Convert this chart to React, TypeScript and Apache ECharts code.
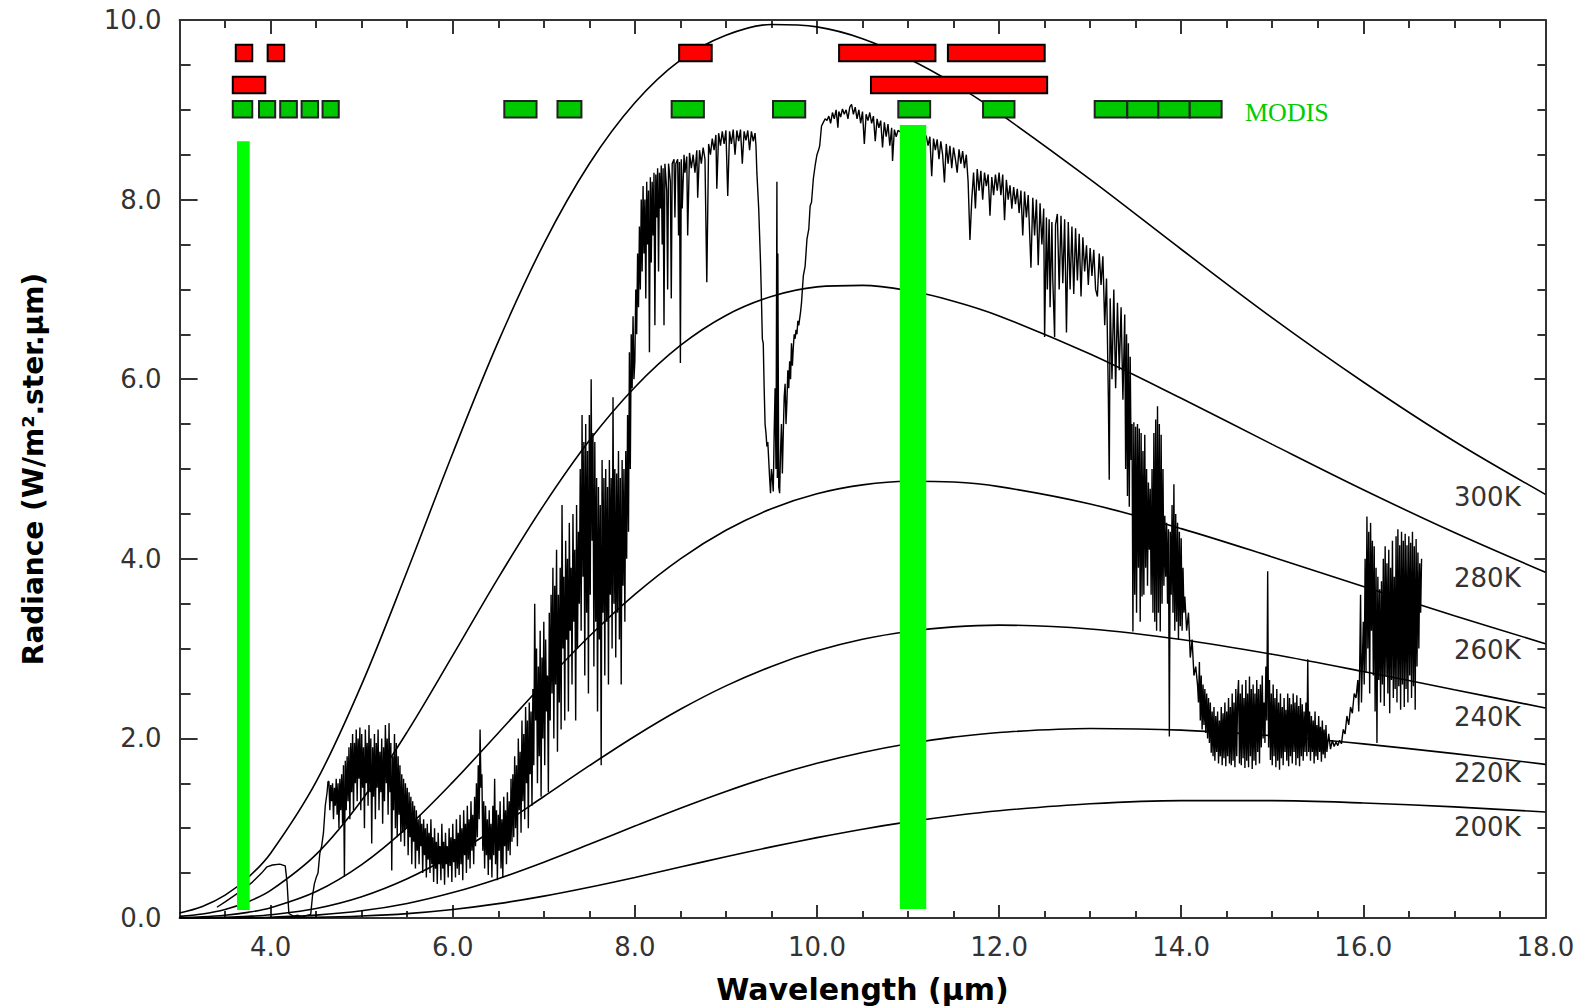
import React, { useEffect, useRef } from 'react';
import * as echarts from 'echarts';

// ---------- Planck curves ----------
const planckWavelengths = [3.0, 3.25, 3.5, 3.75, 4.0, 4.5, 5.0, 5.5, 6.0, 6.5, 7.0, 7.5, 8.0, 8.5, 9.0, 9.5, 10.0, 10.5, 11.0, 11.5, 12.0, 13.0, 14.0, 15.0, 16.0, 17.0, 18.0];
const radiance300K = [0.056, 0.128, 0.254, 0.448, 0.722, 1.518, 2.602, 3.865, 5.176, 6.418, 7.508, 8.399, 9.078, 9.553, 9.829, 9.950, 9.923, 9.792, 9.572, 9.294, 8.962, 8.225, 7.447, 6.683, 5.969, 5.309, 4.718];
const radiance280K = [0.018, 0.045, 0.095, 0.180, 0.307, 0.709, 1.312, 2.073, 2.924, 3.788, 4.598, 5.317, 5.911, 6.376, 6.710, 6.921, 7.028, 7.045, 6.987, 6.869, 6.705, 6.280, 5.787, 5.274, 4.769, 4.292, 3.850];
const radiance260K = [0.005, 0.013, 0.031, 0.063, 0.114, 0.295, 0.595, 1.010, 1.513, 2.061, 2.614, 3.138, 3.604, 4.000, 4.318, 4.558, 4.724, 4.823, 4.864, 4.855, 4.804, 4.610, 4.336, 4.020, 3.692, 3.366, 3.055];
const radiance240K = [0.001, 0.003, 0.008, 0.018, 0.036, 0.106, 0.237, 0.437, 0.701, 1.014, 1.353, 1.696, 2.024, 2.324, 2.585, 2.802, 2.975, 3.104, 3.191, 3.242, 3.261, 3.219, 3.102, 2.937, 2.745, 2.542, 2.339];
const radiance220K = [0.000, 0.001, 0.002, 0.004, 0.009, 0.032, 0.080, 0.162, 0.283, 0.438, 0.621, 0.820, 1.024, 1.223, 1.410, 1.578, 1.723, 1.844, 1.941, 2.014, 2.066, 2.110, 2.092, 2.030, 1.939, 1.830, 1.711];
const radiance200K = [0.000, 0.000, 0.000, 0.001, 0.002, 0.007, 0.022, 0.049, 0.095, 0.160, 0.244, 0.343, 0.452, 0.567, 0.682, 0.792, 0.895, 0.989, 1.070, 1.139, 1.195, 1.272, 1.307, 1.307, 1.281, 1.237, 1.180];
const curveNames = ['300K', '280K', '260K', '240K', '220K', '200K'];

// ---------- measured spectrum [wavelength µm, radiance] ----------
const spectrum: [number, number][] = [
  [3.41, 0.12], [3.50, 0.18], [3.60, 0.25], [3.70, 0.32], [3.80, 0.40], [3.90, 0.50], [3.96, 0.57], [4.02, 0.59], [4.10, 0.60], [4.16, 0.58], [4.18, 0.40], [4.20, 0.05],
  [4.25, 0.02], [4.30, 0.03], [4.35, 0.01], [4.40, 0.03], [4.44, 0.04], [4.46, 0.25], [4.48, 0.38], [4.50, 0.45], [4.52, 0.50], [4.54, 0.72], [4.56, 0.80], [4.58, 0.95], [4.60, 1.25], [4.62, 1.40], [4.63, 1.52],
  [4.64, 1.52], [4.65, 1.20], [4.66, 1.48], [4.67, 1.30], [4.68, 1.50], [4.69, 1.10], [4.70, 1.45], [4.71, 1.25], [4.72, 1.55], [4.73, 1.15], [4.74, 1.50], [4.75, 1.00], [4.76, 1.55], [4.77, 1.20], [4.78, 1.60], [4.79, 1.05],
  [4.80, 1.70], [4.81, 0.46], [4.82, 1.75], [4.83, 1.20], [4.84, 1.80], [4.85, 1.30], [4.86, 1.90], [4.87, 1.10], [4.88, 1.95], [4.89, 1.40], [4.90, 2.05], [4.91, 1.20], [4.92, 1.95], [4.93, 1.50], [4.94, 2.10], [4.95, 1.30],
  [4.96, 2.00], [4.97, 1.55], [4.98, 2.12], [4.99, 1.20], [5.00, 2.05], [5.01, 1.45], [5.02, 1.90], [5.03, 1.00], [5.04, 2.10], [5.05, 1.50], [5.06, 1.95], [5.07, 1.25], [5.08, 2.15], [5.09, 1.40], [5.10, 2.00], [5.11, 0.83],
  [5.12, 1.90], [5.13, 1.35], [5.14, 2.05], [5.15, 1.10], [5.16, 1.95], [5.17, 1.45], [5.18, 2.10], [5.19, 1.20], [5.20, 1.85], [5.21, 1.40], [5.22, 2.00], [5.23, 1.05], [5.24, 1.90], [5.25, 1.30], [5.26, 2.15], [5.27, 1.50],
  [5.28, 2.00], [5.29, 1.15], [5.30, 2.17], [5.31, 1.40], [5.32, 1.95], [5.33, 0.53], [5.34, 1.80], [5.35, 1.20], [5.36, 2.05], [5.37, 1.00], [5.38, 1.95], [5.39, 0.90], [5.40, 1.80], [5.41, 1.15], [5.42, 1.70], [5.43, 0.85],
  [5.44, 1.60], [5.45, 0.95],
  [5.46, 1.55], [5.47, 0.80], [5.48, 1.50], [5.49, 1.00], [5.50, 1.45], [5.51, 0.70], [5.52, 1.40], [5.53, 0.90], [5.54, 1.35], [5.55, 0.60], [5.56, 1.30], [5.57, 0.85], [5.58, 1.25], [5.59, 0.55], [5.60, 1.20], [5.61, 0.75],
  [5.62, 1.10], [5.63, 0.60], [5.64, 1.15], [5.65, 0.80], [5.66, 1.05], [5.67, 0.50], [5.68, 1.10], [5.69, 0.70], [5.70, 1.00], [5.71, 0.45], [5.72, 1.05], [5.73, 0.65], [5.74, 0.95], [5.75, 0.50], [5.76, 1.10], [5.77, 0.60],
  [5.78, 0.90], [5.79, 0.40], [5.80, 1.00], [5.81, 0.55], [5.82, 0.85], [5.83, 0.38], [5.84, 0.95], [5.85, 0.60], [5.86, 0.80], [5.87, 0.42], [5.88, 1.05], [5.89, 0.55], [5.90, 0.85], [5.91, 0.37], [5.92, 0.95], [5.93, 0.60],
  [5.94, 0.80], [5.95, 0.45], [5.96, 1.00], [5.97, 0.58], [5.98, 0.90], [5.99, 0.40], [6.00, 1.05], [6.01, 0.62], [6.02, 0.88], [6.03, 0.45], [6.04, 1.10], [6.05, 0.55], [6.06, 0.95], [6.07, 0.48], [6.08, 1.15], [6.09, 0.60],
  [6.10, 1.00], [6.11, 0.42], [6.12, 1.20], [6.13, 0.70], [6.14, 1.05], [6.15, 0.50], [6.16, 1.25], [6.17, 0.65], [6.18, 1.10], [6.19, 0.55], [6.20, 1.30], [6.21, 0.75], [6.22, 1.15], [6.23, 0.60], [6.24, 1.35], [6.25, 0.80],
  [6.26, 1.50], [6.27, 0.90], [6.28, 1.70], [6.29, 1.10], [6.30, 2.10], [6.31, 1.45], [6.32, 1.60], [6.33, 0.75], [6.34, 1.30], [6.35, 0.55], [6.36, 1.25], [6.37, 0.70], [6.38, 1.10], [6.39, 0.48], [6.40, 1.20], [6.41, 0.65],
  [6.42, 1.05], [6.43, 0.45], [6.44, 1.25], [6.45, 0.70], [6.46, 1.55], [6.47, 0.60], [6.48, 1.20], [6.49, 0.42], [6.50, 1.15], [6.51, 0.75], [6.52, 1.30], [6.53, 0.55], [6.54, 1.10], [6.55, 0.45], [6.56, 1.35], [6.57, 0.80],
  [6.58, 1.20], [6.59, 0.60], [6.60, 1.40], [6.61, 0.75], [6.62, 1.30], [6.63, 0.70], [6.64, 1.55], [6.65, 0.85],
  [6.66, 1.60], [6.67, 0.90], [6.68, 1.80], [6.69, 1.00], [6.70, 1.70], [6.71, 0.80], [6.72, 2.00], [6.73, 1.20], [6.74, 1.85], [6.75, 0.95], [6.76, 2.20], [6.77, 1.30], [6.78, 2.05], [6.79, 1.10], [6.80, 2.35], [6.81, 1.50],
  [6.82, 2.20], [6.83, 1.00], [6.84, 2.40], [6.85, 1.60], [6.86, 2.30], [6.87, 1.25], [6.88, 2.55], [6.89, 1.70], [6.90, 3.50], [6.91, 2.20], [6.92, 3.00], [6.93, 1.50], [6.94, 2.80], [6.95, 1.80], [6.96, 3.20], [6.97, 1.35],
  [6.98, 2.90], [6.99, 2.00], [7.00, 3.30], [7.01, 1.70], [7.02, 3.10], [7.03, 2.30], [7.04, 2.70], [7.05, 1.40], [7.06, 3.40], [7.07, 2.20], [7.08, 3.60], [7.09, 2.50],
  [7.10, 3.90], [7.11, 2.00], [7.12, 3.70], [7.13, 2.60], [7.14, 4.10], [7.15, 1.85], [7.16, 3.60], [7.17, 2.40], [7.18, 3.90], [7.19, 2.10], [7.20, 4.60], [7.21, 3.00], [7.22, 3.80], [7.23, 2.20], [7.24, 4.20], [7.25, 3.10],
  [7.26, 4.00], [7.27, 2.30], [7.28, 4.40], [7.29, 3.20], [7.30, 3.90], [7.31, 2.60], [7.32, 4.50], [7.33, 3.30], [7.34, 4.10], [7.35, 2.20], [7.36, 4.60], [7.37, 3.00], [7.38, 4.30], [7.39, 3.50], [7.40, 5.00], [7.41, 3.20],
  [7.42, 5.60], [7.43, 3.80], [7.44, 5.30], [7.45, 2.70], [7.46, 5.50], [7.47, 3.40], [7.48, 5.20], [7.49, 2.50], [7.50, 5.60], [7.51, 3.60], [7.52, 6.00], [7.53, 4.20], [7.54, 5.40], [7.55, 2.80], [7.56, 5.30], [7.57, 3.30],
  [7.58, 4.90], [7.59, 2.30], [7.60, 4.80], [7.61, 3.10], [7.62, 4.60], [7.63, 1.70], [7.64, 5.10], [7.65, 3.40], [7.66, 4.90], [7.67, 2.70], [7.68, 5.00], [7.69, 3.30], [7.70, 4.80], [7.71, 2.60], [7.72, 5.10], [7.73, 3.60],
  [7.74, 4.90], [7.75, 3.00], [7.76, 5.80], [7.77, 3.50], [7.78, 5.00], [7.79, 2.90], [7.80, 4.95], [7.81, 3.40], [7.82, 5.20], [7.83, 3.10], [7.84, 4.90], [7.85, 2.60], [7.86, 5.10], [7.87, 3.70], [7.88, 5.00], [7.89, 3.30],
  [7.90, 5.20], [7.91, 4.00], [7.92, 5.60], [7.93, 4.30], [7.94, 6.30], [7.95, 5.00], [7.96, 6.50], [7.97, 5.90], [7.98, 6.70], [7.99, 6.00],
  [8.00, 6.20], [8.01, 7.00], [8.02, 6.50], [8.03, 7.40], [8.04, 6.80], [8.05, 7.70], [8.06, 7.00], [8.07, 8.00], [8.08, 7.20], [8.09, 8.15], [8.10, 7.40], [8.11, 8.00], [8.12, 6.90], [8.13, 8.20], [8.14, 7.50], [8.15, 8.10],
  [8.16, 6.30], [8.17, 8.25], [8.18, 7.30], [8.19, 8.20], [8.20, 7.60], [8.21, 8.30], [8.22, 6.60], [8.23, 8.28], [8.24, 7.80], [8.25, 8.35], [8.26, 7.20], [8.27, 8.30], [8.28, 7.90], [8.29, 8.38], [8.30, 7.50], [8.31, 8.35],
  [8.32, 6.60], [8.33, 8.40], [8.35, 8.10], [8.36, 7.00], [8.37, 8.40], [8.39, 8.20], [8.40, 6.90], [8.41, 8.40], [8.43, 8.45], [8.44, 7.80], [8.45, 8.40], [8.47, 8.45],
  [8.48, 7.60], [8.49, 8.42], [8.50, 6.18], [8.51, 8.45],
  [8.52, 7.90], [8.54, 8.50], [8.55, 8.30], [8.57, 8.48], [8.58, 7.60], [8.60, 8.52], [8.62, 8.35], [8.64, 8.50], [8.66, 8.30], [8.68, 8.55], [8.69, 8.02], [8.71, 8.55], [8.73, 8.40], [8.75, 8.58], [8.77, 8.45], [8.79, 7.08],
  [8.81, 8.62], [8.83, 8.50], [8.85, 8.68], [8.87, 8.55], [8.89, 8.72], [8.90, 8.12], [8.92, 8.74], [8.94, 8.60], [8.96, 8.76], [8.98, 8.62], [9.00, 8.77], [9.02, 8.04], [9.04, 8.76], [9.06, 8.62], [9.08, 8.78], [9.10, 8.50],
  [9.12, 8.77], [9.14, 8.65], [9.16, 8.78], [9.18, 8.40], [9.20, 8.76], [9.22, 8.66], [9.24, 8.77], [9.26, 8.55], [9.28, 8.76], [9.30, 8.65], [9.32, 8.74],
  [9.33, 8.60], [9.34, 8.30], [9.35, 8.10], [9.36, 7.90], [9.37, 7.60], [9.38, 7.30], [9.39, 6.90], [9.40, 6.45], [9.41, 6.40], [9.42, 5.90], [9.43, 5.50], [9.44, 5.40], [9.45, 5.25], [9.46, 5.30], [9.47, 5.10], [9.48, 4.90],
  [9.49, 4.73], [9.50, 5.00], [9.51, 4.90], [9.52, 4.75], [9.53, 5.40], [9.54, 5.90], [9.55, 5.00], [9.56, 8.20], [9.565, 4.90], [9.57, 7.40], [9.58, 4.80], [9.59, 4.73], [9.60, 5.20], [9.61, 5.50], [9.62, 4.95], [9.63, 5.40],
  [9.64, 5.80], [9.65, 5.95], [9.66, 5.50], [9.67, 5.75], [9.68, 6.10], [9.69, 5.90], [9.70, 6.20], [9.71, 6.00], [9.72, 6.40], [9.73, 6.15], [9.74, 6.35], [9.75, 6.50], [9.76, 6.45], [9.77, 6.55], [9.78, 6.50], [9.79, 6.65],
  [9.80, 6.60], [9.82, 6.75], [9.83, 6.85], [9.85, 7.15], [9.87, 7.26], [9.89, 7.56], [9.91, 7.67], [9.925, 7.93], [9.94, 7.97], [9.96, 8.23], [9.98, 8.38], [10.00, 8.50], [10.02, 8.56], [10.03, 8.60], [10.05, 8.82], [10.07, 8.86],
  [10.09, 8.90], [10.11, 8.88],
  [10.13, 8.93], [10.15, 8.85], [10.17, 8.97], [10.19, 8.90], [10.21, 9.00], [10.23, 8.80], [10.24, 8.98], [10.26, 8.92], [10.28, 9.01], [10.30, 8.95], [10.32, 9.00], [10.34, 8.90], [10.36, 9.03], [10.38, 9.06], [10.40, 8.95], [10.42, 9.03],
  [10.44, 8.90], [10.46, 9.00], [10.48, 8.85], [10.50, 8.98], [10.52, 8.62], [10.54, 8.95], [10.56, 8.88], [10.58, 8.97], [10.60, 8.85], [10.62, 8.93], [10.64, 8.65], [10.66, 8.90], [10.68, 8.80], [10.70, 8.88], [10.72, 8.58], [10.74, 8.86],
  [10.76, 8.70], [10.78, 8.84], [10.80, 8.60], [10.82, 8.80], [10.83, 8.43], [10.85, 8.78], [10.87, 8.70], [10.89, 8.77], [10.92, 8.75], [10.96, 8.72], [11.00, 8.75], [11.04, 8.70], [11.08, 8.72], [11.12, 8.68], [11.16, 8.70], [11.20, 8.71],
  [11.22, 8.60], [11.24, 8.70], [11.26, 8.26], [11.28, 8.68], [11.30, 8.55], [11.32, 8.67], [11.34, 8.45], [11.36, 8.65], [11.38, 8.50], [11.40, 8.19], [11.42, 8.62], [11.44, 8.40], [11.46, 8.60], [11.48, 8.35], [11.50, 8.58], [11.52, 8.45],
  [11.54, 8.30], [11.56, 8.56], [11.58, 8.40], [11.60, 8.54], [11.62, 8.35], [11.64, 8.50], [11.66, 8.20], [11.68, 7.55], [11.70, 8.00], [11.72, 8.30], [11.74, 7.90], [11.76, 8.34], [11.78, 8.10], [11.80, 8.32], [11.82, 8.00], [11.84, 8.30],
  [11.86, 8.15], [11.88, 8.28], [11.90, 7.82], [11.92, 8.25], [11.94, 8.05], [11.96, 8.28], [11.98, 8.10],
  [12.00, 8.30], [12.02, 8.05], [12.04, 8.28], [12.06, 7.77], [12.08, 8.22], [12.10, 8.00], [12.12, 8.16], [12.14, 7.90], [12.16, 8.14], [12.18, 7.95], [12.20, 8.12], [12.22, 7.85], [12.24, 8.10], [12.26, 7.60], [12.28, 8.09], [12.30, 7.80],
  [12.32, 8.05], [12.35, 7.24], [12.37, 8.02], [12.39, 7.60], [12.41, 8.00], [12.43, 7.27], [12.45, 7.96], [12.47, 7.50], [12.49, 7.90], [12.50, 6.47], [12.52, 7.80], [12.53, 7.00], [12.55, 7.78], [12.56, 6.80], [12.58, 7.75], [12.59, 7.10],
  [12.61, 6.47], [12.62, 7.72], [12.64, 7.84], [12.66, 7.00], [12.68, 7.82], [12.70, 7.07], [12.72, 7.78], [12.74, 6.52], [12.76, 7.75], [12.78, 7.00], [12.80, 7.70], [12.82, 6.95], [12.84, 7.68], [12.86, 7.10], [12.88, 7.62], [12.90, 6.92],
  [12.92, 7.58], [12.94, 7.20], [12.96, 7.49], [12.98, 7.05], [13.00, 7.46], [13.02, 7.15], [13.04, 7.44], [13.06, 7.00], [13.08, 6.92], [13.10, 7.40], [13.12, 7.05], [13.14, 7.37], [13.16, 6.60], [13.18, 7.12], [13.20, 5.80], [13.21, 4.88],
  [13.22, 6.90], [13.24, 6.00], [13.26, 7.00], [13.28, 5.90], [13.30, 6.85], [13.32, 6.10], [13.34, 6.80], [13.36, 5.77], [13.38, 6.72], [13.39, 5.00], [13.40, 6.50], [13.41, 4.70], [13.42, 6.40], [13.43, 4.58], [13.44, 6.25], [13.45, 5.10],
  [13.46, 5.50], [13.47, 3.19], [13.48, 5.52], [13.49, 3.60], [13.50, 5.47], [13.51, 3.40], [13.52, 5.50], [13.53, 3.90], [13.54, 5.45], [13.55, 3.30], [13.56, 5.40], [13.57, 3.58], [13.58, 5.20], [13.59, 3.60], [13.60, 5.38], [13.61, 3.90],
  [13.62, 5.00], [13.63, 3.70], [13.64, 4.85], [13.65, 4.10], [13.66, 4.78], [13.67, 3.60], [13.68, 5.00], [13.69, 3.40], [13.70, 5.40], [13.71, 3.30], [13.72, 5.55], [13.73, 3.20], [13.74, 5.70], [13.75, 3.40], [13.76, 5.50], [13.77, 3.19],
  [13.78, 5.38], [13.79, 3.50], [13.80, 5.00], [13.81, 3.70], [13.82, 4.48], [13.83, 3.80], [13.84, 4.40], [13.85, 3.50], [13.86, 4.33], [13.87, 2.02], [13.88, 4.30], [13.89, 3.60], [13.90, 4.60], [13.91, 3.40], [13.92, 4.83], [13.93, 3.20],
  [13.94, 4.50], [13.95, 3.30], [13.96, 4.40], [13.97, 3.10], [13.98, 4.30], [13.99, 3.25], [14.00, 4.23], [14.01, 3.20], [14.02, 3.90], [14.03, 3.40], [14.04, 3.58], [14.06, 3.20], [14.08, 3.40], [14.10, 2.90], [14.12, 3.10], [14.14, 2.70],
  [14.16, 2.80], [14.18, 2.59],
  [14.19, 2.40], [14.20, 2.85], [14.21, 2.20], [14.22, 2.70], [14.23, 2.10], [14.24, 2.60], [14.25, 2.15], [14.26, 2.55], [14.27, 2.06], [14.28, 2.50], [14.29, 2.00], [14.30, 2.45], [14.31, 1.95], [14.32, 2.40], [14.33, 1.84], [14.34, 2.30],
  [14.35, 1.80], [14.36, 2.35], [14.37, 1.75], [14.38, 2.25], [14.39, 1.85], [14.40, 2.30], [14.41, 1.72], [14.42, 2.20], [14.43, 1.80], [14.44, 2.35], [14.45, 1.70], [14.46, 2.28], [14.47, 1.78], [14.48, 2.40], [14.49, 1.69], [14.50, 2.30],
  [14.51, 1.80], [14.52, 2.45], [14.53, 1.72], [14.54, 2.35], [14.55, 1.70], [14.56, 2.50], [14.57, 1.75], [14.58, 2.40], [14.59, 1.68], [14.60, 2.55], [14.61, 1.80], [14.62, 2.45], [14.63, 2.65], [14.64, 1.72], [14.65, 2.50], [14.66, 1.70],
  [14.67, 2.60], [14.68, 1.78], [14.69, 2.45], [14.70, 1.67], [14.71, 2.65], [14.72, 1.75], [14.73, 2.50], [14.74, 1.68], [14.75, 2.69], [14.76, 1.80], [14.77, 2.55], [14.78, 1.66], [14.79, 2.60], [14.80, 1.75], [14.81, 2.50], [14.82, 1.70],
  [14.83, 2.65], [14.84, 1.85], [14.85, 2.55], [14.86, 1.72], [14.87, 2.60], [14.88, 1.90], [14.89, 2.70], [14.90, 2.00], [14.91, 2.40], [14.92, 1.95], [14.93, 2.80], [14.94, 2.20], [14.95, 3.86], [14.96, 1.90], [14.97, 2.65], [14.98, 1.76],
  [14.99, 2.50], [15.00, 1.70], [15.01, 2.60], [15.02, 1.80], [15.03, 2.45], [15.04, 1.68], [15.05, 2.55], [15.06, 1.75], [15.07, 2.40], [15.08, 1.65], [15.09, 2.50], [15.10, 1.78], [15.11, 2.35], [15.12, 1.70], [15.13, 2.45], [15.14, 1.85],
  [15.15, 2.32], [15.16, 1.75], [15.17, 2.50], [15.18, 1.69], [15.19, 2.45], [15.20, 1.80], [15.21, 2.38], [15.22, 1.72], [15.23, 2.50], [15.24, 1.85], [15.25, 2.40], [15.26, 1.70], [15.27, 2.48], [15.28, 1.78], [15.29, 2.36], [15.30, 1.69],
  [15.31, 2.45], [15.32, 1.80], [15.33, 2.38], [15.34, 1.75], [15.35, 2.30], [15.36, 1.85], [15.37, 2.40], [15.38, 1.80], [15.39, 2.88], [15.40, 1.85], [15.41, 2.30], [15.42, 1.75], [15.43, 2.25], [15.44, 1.85], [15.45, 2.20], [15.46, 1.72],
  [15.47, 2.30], [15.48, 1.80], [15.49, 2.15], [15.50, 1.76], [15.51, 2.25], [15.52, 1.85], [15.53, 2.13], [15.54, 1.74], [15.55, 2.20], [15.56, 1.82], [15.57, 2.10], [15.58, 1.78], [15.59, 2.15], [15.60, 1.85], [15.62, 2.05], [15.64, 1.88],
  [15.66, 1.98], [15.68, 1.91], [15.70, 1.96], [15.72, 1.92], [15.74, 1.98], [15.76, 1.94], [15.78, 2.10], [15.80, 2.05], [15.82, 2.25], [15.84, 2.15], [15.86, 2.35], [15.88, 2.28], [15.90, 2.50], [15.92, 2.45], [15.94, 2.65], [15.95, 2.30],
  [15.96, 2.75], [15.97, 3.60], [15.98, 2.40], [15.99, 2.84], [16.00, 3.30], [16.01, 2.60], [16.02, 4.00], [16.03, 2.73], [16.04, 4.47], [16.05, 3.00], [16.06, 4.30], [16.07, 2.50], [16.08, 4.40], [16.09, 3.20], [16.10, 4.20], [16.11, 2.70],
  [16.12, 4.14], [16.13, 2.30], [16.14, 3.90], [16.15, 1.95], [16.16, 3.80], [16.17, 2.65], [16.18, 3.66], [16.19, 2.40], [16.20, 3.75], [16.21, 2.60], [16.22, 4.00], [16.23, 2.36], [16.24, 4.14], [16.25, 2.70], [16.26, 3.95], [16.27, 2.50],
  [16.28, 4.10], [16.29, 2.28], [16.30, 3.90], [16.31, 2.65], [16.32, 4.20], [16.33, 2.45], [16.34, 3.80], [16.35, 2.55], [16.36, 4.25], [16.37, 2.40], [16.38, 4.33], [16.39, 2.58], [16.40, 4.15], [16.41, 2.32], [16.42, 4.30], [16.43, 2.60],
  [16.44, 4.20], [16.45, 2.35], [16.46, 4.28], [16.47, 2.55], [16.48, 4.15], [16.49, 2.40], [16.50, 4.25], [16.51, 2.70], [16.52, 4.18], [16.53, 2.45], [16.54, 4.30], [16.55, 2.58], [16.56, 4.14], [16.57, 2.32], [16.58, 4.22], [16.59, 2.80],
  [16.60, 4.07], [16.61, 3.00], [16.62, 3.95], [16.63, 3.40], [16.64, 4.00],
];

// ---------- highlighted channels (green vertical bars): [λ start, λ end, radiance bottom, radiance top] ----------
const highlightBands: number[][] = [
  [3.63, 3.77, 0.09, 8.65],
  [10.91, 11.20, 0.10, 8.83],
];

// ---------- MODIS band boxes: [λ start, λ end] per row ----------
const modisRedRow1: number[][] = [[3.617, 3.798], [3.967, 4.149], [8.486, 8.844], [10.243, 11.301], [11.438, 12.501]];
const modisRedRow2: number[][] = [[3.584, 3.941], [10.593, 12.528]];
const modisGreenRow: number[][] = [
  [3.584, 3.798], [3.872, 4.050], [4.105, 4.288], [4.340, 4.521], [4.570, 4.748], [6.566, 6.920], [7.150, 7.413], [8.404, 8.758],
  [9.517, 9.871], [10.893, 11.243], [11.824, 12.169], [13.050, 13.408], [13.408, 13.749], [13.749, 14.094], [14.094, 14.444],
];
// radiance extent of each row of boxes
const row1Extent = [9.54, 9.725];
const row2Extent = [9.183, 9.368];
const row3Extent = [8.915, 9.097];

const xMajorTicks = [4, 6, 8, 10, 12, 14, 16, 18];

const AXIS_COLOR = '#333';
const LABEL_FONT = 'DejaVu Sans';

function rectRenderer(fill: string, stroke: string | null, lineWidth: number) {
  return (params: any, api: any) => {
    const p0 = api.coord([api.value(0), api.value(3)]);
    const p1 = api.coord([api.value(1), api.value(2)]);
    return {
      type: 'rect',
      shape: { x: p0[0], y: p0[1], width: p1[0] - p0[0], height: p1[1] - p0[1] },
      style: stroke ? { fill, stroke, lineWidth } : { fill },
    };
  };
}

function withRow(list: number[][], ext: number[]) {
  return list.map((b) => [b[0], b[1], ext[0], ext[1]]);
}

export default function App() {
  const ref = useRef<HTMLDivElement>(null);

  useEffect(() => {
    if (!ref.current) return;
    const chart = echarts.init(ref.current, undefined, { renderer: 'svg' });

    const curves = [radiance300K, radiance280K, radiance260K, radiance240K, radiance220K, radiance200K];
    const planckSeries = curves.map((vals, i) => ({
      name: curveNames[i],
      type: 'line',
      data: planckWavelengths.map((w, j) => [w, vals[j]]),
      smooth: 0.35,
      showSymbol: false,
      lineStyle: { color: '#000', width: 1.6 },
      z: 2,
      silent: true,
    }));

    const tickStyle = { color: AXIS_COLOR, width: 2 };
    const baseX = {
      type: 'value',
      min: 3,
      max: 18,
      splitLine: { show: false },
    };
    const baseY = {
      type: 'value',
      min: 0,
      max: 10,
      interval: 2,
      splitLine: { show: false },
    };

    const labelTexts = ['300K', '280K', '260K', '240K', '220K', '200K'];
    const labelY = [497, 578, 650, 717, 773, 827];

    chart.setOption({
      animation: false,
      backgroundColor: '#fff',
      grid: { left: 179.6, right: 41.6, top: 20, bottom: 88, containLabel: false, outerBoundsMode: 'none' },
      xAxis: [
        {
          ...baseX,
          position: 'bottom',
          interval: 0.5,
          axisLine: { show: true, onZero: false, lineStyle: tickStyle },
          axisTick: { show: true, inside: true, length: 7, lineStyle: tickStyle },
          axisLabel: {
            show: true,
            margin: 16,
            color: AXIS_COLOR,
            fontSize: 26,
            fontFamily: LABEL_FONT,
            formatter: (v: number) => {
              const r = Math.round(v * 2) / 2;
              return Math.abs(r % 2) < 1e-6 ? r.toFixed(1) : '';
            },
          },
          name: 'Wavelength (μm)',
          nameLocation: 'middle',
          nameGap: 56,
          nameTextStyle: { fontSize: 30, fontWeight: 'bold', fontFamily: LABEL_FONT, color: '#000' },
        },
        {
          ...baseX,
          position: 'bottom',
          axisLine: { show: false, onZero: false },
          axisTick: { show: true, inside: true, length: 13, customValues: xMajorTicks, lineStyle: tickStyle },
          axisLabel: { show: false },
        },
        {
          ...baseX,
          position: 'top',
          interval: 0.5,
          axisLine: { show: true, onZero: false, lineStyle: tickStyle },
          axisTick: { show: true, inside: true, length: 8, lineStyle: tickStyle },
          axisLabel: { show: false },
        },
        {
          ...baseX,
          position: 'top',
          axisLine: { show: false, onZero: false },
          axisTick: { show: true, inside: true, length: 14, customValues: xMajorTicks, lineStyle: tickStyle },
          axisLabel: { show: false },
        },
      ],
      yAxis: [
        {
          ...baseY,
          position: 'left',
          axisLine: { show: true, onZero: false, lineStyle: tickStyle },
          axisTick: { show: true, inside: true, length: 18, lineStyle: tickStyle },
          minorTick: { show: true, splitNumber: 4, length: 11, lineStyle: tickStyle },
          axisLabel: {
            show: true,
            margin: 18,
            color: AXIS_COLOR,
            fontSize: 26,
            fontFamily: LABEL_FONT,
            formatter: (v: number) => v.toFixed(1),
          },
          name: 'Radiance (W/m².ster.μm)',
          nameLocation: 'middle',
          nameRotate: 90,
          nameGap: 132,
          nameTextStyle: { fontSize: 28, fontWeight: 'bold', fontFamily: LABEL_FONT, color: '#000' },
        },
        {
          ...baseY,
          position: 'right',
          axisLine: { show: true, onZero: false, lineStyle: tickStyle },
          axisTick: { show: true, inside: true, length: 11, lineStyle: tickStyle },
          minorTick: { show: true, splitNumber: 4, length: 8, lineStyle: tickStyle },
          axisLabel: { show: false },
        },
      ],
      series: [
        ...planckSeries,
        {
          name: 'spectrum',
          type: 'line',
          data: spectrum,
          showSymbol: false,
          lineStyle: { color: '#000', width: 1.4 },
          z: 3,
          silent: true,
        },
        {
          name: 'highlight',
          type: 'custom',
          renderItem: rectRenderer('#00ff00', null, 0),
          encode: { x: [0, 1], y: [2, 3] },
          data: highlightBands,
          z: 4,
          silent: true,
        },
        {
          name: 'modisRed1',
          type: 'custom',
          renderItem: rectRenderer('#ff0000', '#000', 2),
          encode: { x: [0, 1], y: [2, 3] },
          data: withRow(modisRedRow1, row1Extent),
          z: 5,
          silent: true,
        },
        {
          name: 'modisRed2',
          type: 'custom',
          renderItem: rectRenderer('#ff0000', '#000', 2),
          encode: { x: [0, 1], y: [2, 3] },
          data: withRow(modisRedRow2, row2Extent),
          z: 5,
          silent: true,
        },
        {
          name: 'modisGreen',
          type: 'custom',
          renderItem: rectRenderer('#00c800', '#222', 2),
          encode: { x: [0, 1], y: [2, 3] },
          data: withRow(modisGreenRow, row3Extent),
          z: 5,
          silent: true,
        },
      ],
      graphic: [
        {
          type: 'text',
          x: 1245,
          y: 112,
          z: 10,
          style: {
            text: 'MODIS',
            fill: '#00cc00',
            fontSize: 26,
            fontFamily: 'Liberation Serif',
            verticalAlign: 'middle',
          },
        },
        ...labelTexts.map((t, i) => ({
          type: 'text',
          x: 1454,
          y: labelY[i],
          z: 10,
          style: {
            text: t,
            fill: AXIS_COLOR,
            fontSize: 26,
            fontFamily: LABEL_FONT,
            verticalAlign: 'middle',
          },
        })),
      ],
    });

    return () => {
      chart.dispose();
    };
  }, []);

  return (
    <div
      ref={ref}
      style={{ position: 'fixed', left: 0, top: 0, width: 1587, height: 1006, background: '#fff' }}
    />
  );
}
